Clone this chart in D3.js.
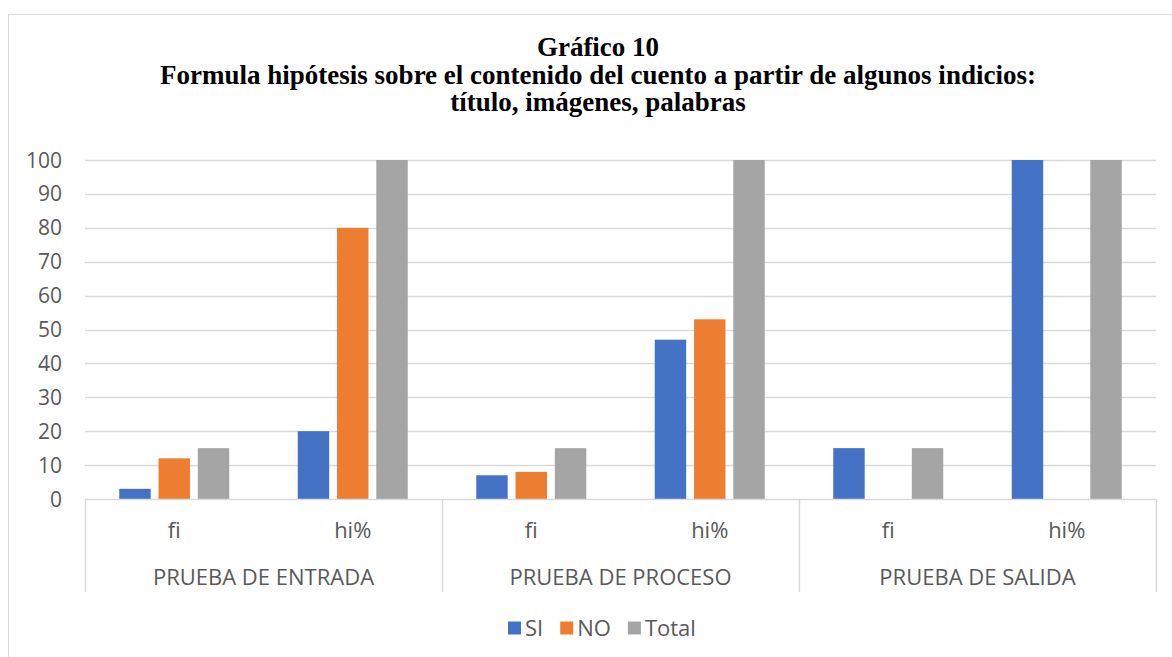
<!DOCTYPE html>
<html>
<head>
<meta charset="utf-8">
<script src="https://cdn.jsdelivr.net/npm/d3@7"></script>
<style>
  body { margin: 0; background: #fff; }
  svg { display: block; }
</style>
</head>
<body>
<svg id="chart" width="1172" height="657"></svg>
<script>
// data
const tests = ["PRUEBA DE ENTRADA", "PRUEBA DE PROCESO", "PRUEBA DE SALIDA"];
const measures = ["fi", "hi%"];
const series = ["SI", "NO", "Total"];
const colors = ["#4472C4", "#ED7D31", "#A5A5A5"];
const siValues = [3, 20, 7, 47, 15, 100];
const noValues = [12, 80, 8, 53, 0, 0];
const totalValues = [15, 100, 15, 100, 15, 100];
const yTicks = [0, 10, 20, 30, 40, 50, 60, 70, 80, 90, 100];
const titleLines = ["Gráfico 10",
  "Formula hipótesis sobre el contenido del cuento a partir de algunos indicios:",
  "título, imágenes, palabras"];

const svg = d3.select("#chart"),
      width = +svg.attr("width"),
      height = +svg.attr("height");

const plotLeft = 85, plotRight = 1156, plotTop = 160, plotBottom = 499;
const labelFont = "'Open Sans', sans-serif";
const labelSize = "22px";

// build rows: one per test/measure
const rows = [];
tests.forEach(function(t, i) {
  measures.forEach(function(m, j) {
    const k = i * 2 + j;
    rows.push({ key: t + "|" + m, test: t, measure: m,
      values: [siValues[k], noValues[k], totalValues[k]] });
  });
});

// chart border
svg.append("rect")
  .attr("x", 8.5).attr("y", 14.5)
  .attr("width", width + 10).attr("height", height + 10)
  .attr("fill", "none").attr("stroke", "#d9d9d9");

// title
svg.append("g").selectAll("text")
  .data(titleLines)
  .enter()
  .append("text")
    .attr("x", 598)
    .attr("y", function(d, i) { return 56 + i * 27.5; })
    .attr("text-anchor", "middle")
    .attr("font-family", "'Liberation Serif', 'Times New Roman', serif")
    .attr("font-weight", "bold")
    .attr("font-size", "27px")
    .attr("fill", "#000")
    .text(function(d) { return d; });

const y = d3.scaleLinear().domain([0, 100]).range([plotBottom, plotTop]);

const x0 = d3.scaleBand()
  .domain(rows.map(function(d) { return d.key; }))
  .range([plotLeft, plotRight])
  .padding(0);

const gw = 110;
const x1 = d3.scaleBand()
  .domain(series)
  .range([(x0.bandwidth() - gw) / 2, (x0.bandwidth() + gw) / 2])
  .paddingInner(0.2)
  .paddingOuter(0);

// gridlines
svg.append("g")
  .selectAll("line")
  .data(yTicks.filter(function(d) { return d > 0; }))
  .enter()
  .append("line")
    .attr("x1", plotLeft).attr("x2", plotRight)
    .attr("y1", function(d) { return Math.round(y(d)) + 0.5; })
    .attr("y2", function(d) { return Math.round(y(d)) + 0.5; })
    .attr("stroke", "#d9d9d9")
    .attr("stroke-width", 1.5);

// y tick labels
svg.append("g")
  .selectAll("text")
  .data(yTicks)
  .enter()
  .append("text")
    .attr("x", 62)
    .attr("y", function(d) { return y(d); })
    .attr("dy", "0.36em")
    .attr("text-anchor", "end")
    .attr("font-family", labelFont)
    .attr("font-size", "21px")
    .attr("fill", "#595959")
    .text(function(d) { return d; });

// bars
svg.append("g")
  .selectAll("g")
  .data(rows)
  .enter()
  .append("g")
    .attr("transform", function(d) { return "translate(" + x0(d.key) + ",0)"; })
  .selectAll("rect")
  .data(function(d) { return d.values.map(function(v, i) { return { s: series[i], v: v, c: colors[i] }; }); })
  .enter()
  .append("rect")
    .attr("x", function(d) { return x1(d.s); })
    .attr("width", x1.bandwidth())
    .attr("y", function(d) { return y(d.v); })
    .attr("height", function(d) { return plotBottom - y(d.v); })
    .attr("fill", function(d) { return d.c; });

// category axis
const axis = svg.append("g");
axis.append("line")
  .attr("x1", plotLeft).attr("x2", plotRight)
  .attr("y1", plotBottom + 0.5).attr("y2", plotBottom + 0.5)
  .attr("stroke", "#d9d9d9").attr("stroke-width", 1.5);

const sepX = tests.map(function(t) { return x0(t + "|fi"); }).concat([plotRight]);
axis.selectAll(".sep")
  .data(sepX)
  .enter()
  .append("line")
    .attr("class", "sep")
    .attr("x1", function(d) { return Math.round(d) + 0.5; })
    .attr("x2", function(d) { return Math.round(d) + 0.5; })
    .attr("y1", plotBottom).attr("y2", 592)
    .attr("stroke", "#d9d9d9").attr("stroke-width", 1.5);

axis.selectAll(".measure")
  .data(rows)
  .enter()
  .append("text")
    .attr("class", "measure")
    .attr("x", function(d) { return x0(d.key) + x0.bandwidth() / 2; })
    .attr("y", 538)
    .attr("text-anchor", "middle")
    .attr("font-family", labelFont)
    .attr("font-size", labelSize)
    .attr("fill", "#595959")
    .text(function(d) { return d.measure; });

axis.selectAll(".test")
  .data(tests)
  .enter()
  .append("text")
    .attr("class", "test")
    .attr("x", function(d) { return x0(d + "|fi") + x0.bandwidth(); })
    .attr("y", 585)
    .attr("text-anchor", "middle")
    .attr("font-family", labelFont)
    .attr("font-size", labelSize)
    .attr("fill", "#595959")
    .text(function(d) { return d; });

// legend
const legend = svg.append("g").attr("transform", "translate(508,628)");
let lx = 0;
series.forEach(function(s, i) {
  const g = legend.append("g").attr("transform", "translate(" + lx + ",0)");
  g.append("rect").attr("x", 0).attr("y", -6.5).attr("width", 13).attr("height", 13).attr("fill", colors[i]);
  const t = g.append("text")
    .attr("x", 17).attr("y", 0).attr("dy", "0.36em")
    .attr("font-family", labelFont)
    .attr("font-size", labelSize)
    .attr("fill", "#595959")
    .text(s);
  lx += 17 + t.node().getComputedTextLength() + 17;
});
</script>
</body>
</html>
